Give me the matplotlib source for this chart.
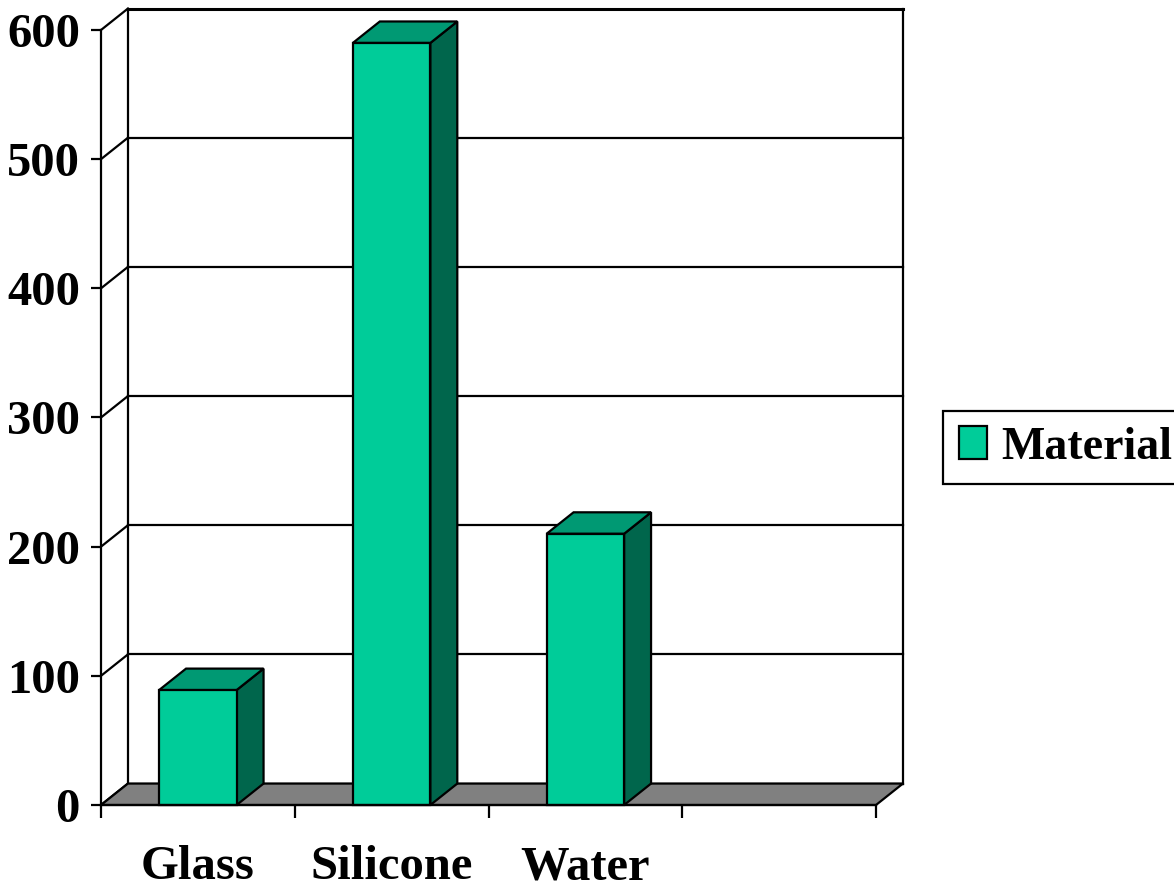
import matplotlib
matplotlib.use("Agg")
import matplotlib.pyplot as plt
from matplotlib.patches import Polygon, Patch

plt.rcParams['font.family'] = ['Liberation Serif', 'DejaVu Serif']
plt.rcParams['font.weight'] = 'bold'

# ---- data ----
categories = ["Glass", "Silicone", "Water", ""]
values = [89, 590, 210]
series_name = "Material"
y_ticks = [0, 100, 200, 300, 400, 500, 600]

# ---- style ----
FRONT = "#00CC99"
TOP = "#009973"
SIDE = "#00664C"
FLOOR = "#808080"
LW = 1.6
FS = 35

fig = plt.figure(figsize=(11.74, 8.88), dpi=100)
W, H = 1174, 888
ax = fig.add_axes([101 / W, (H - 805) / H, 775 / W, 775 / H])
n = len(categories)
ax.set_xlim(0, n)
ax.set_ylim(0, y_ticks[-1])
ax.patch.set_visible(False)

# depth offset of the back wall, in data units
dx, dy = 0.139, 16.6

# side wall diagonals and back-wall gridlines
for v in y_ticks:
    ax.plot([0, dx], [v, v + dy], color="black", lw=LW, clip_on=False,
            solid_capstyle="projecting", zorder=1)
    ax.plot([dx, n + dx], [v + dy, v + dy], color="black",
            lw=LW + (0.6 if v == y_ticks[-1] else 0), clip_on=False, zorder=1)
# vertical edges of the back wall
for xv in (dx, n + dx):
    ax.plot([xv, xv], [dy, y_ticks[-1] + dy], color="black", lw=LW,
            clip_on=False, zorder=1)

# floor
ax.add_patch(Polygon([(0, 0), (n, 0), (n + dx, dy), (dx, dy)], closed=True,
                     facecolor=FLOOR, edgecolor="black", lw=LW, clip_on=False,
                     zorder=2))

# 3D bars
bw = 0.4
for i, v in enumerate(values):
    x0 = i + 0.5 - bw / 2
    x1 = x0 + bw
    front = Polygon([(x0, 0), (x1, 0), (x1, v), (x0, v)], closed=True)
    top = Polygon([(x0, v), (x1, v), (x1 + dx, v + dy), (x0 + dx, v + dy)],
                  closed=True)
    side = Polygon([(x1, 0), (x1 + dx, dy), (x1 + dx, v + dy), (x1, v)],
                   closed=True)
    for p, c in ((side, SIDE), (top, TOP), (front, FRONT)):
        p.set_facecolor(c)
        p.set_edgecolor("black")
        p.set_linewidth(LW)
        p.set_joinstyle("miter")
        p.set_clip_on(False)
        p.set_zorder(3)
        ax.add_patch(p)

# axes and ticks
for s in ("top", "right"):
    ax.spines[s].set_visible(False)
for s in ("left", "bottom"):
    ax.spines[s].set_linewidth(LW)
    ax.spines[s].set_zorder(4)

ax.set_yticks(y_ticks)
ax.set_yticklabels([str(t) for t in y_ticks])
ax.tick_params(axis="y", length=7.2, width=LW, pad=8, labelsize=FS)

ax.set_xticks(range(n + 1))
ax.set_xticklabels([])
ax.set_xticks([i + 0.5 for i in range(n)], minor=True)
ax.set_xticklabels(categories, minor=True)
ax.tick_params(axis="x", which="major", length=9.4, width=LW)
ax.tick_params(axis="x", which="minor", length=0, pad=29, labelsize=FS)

# legend
handle = Patch(facecolor=FRONT, edgecolor="black", lw=LW, label=series_name)
leg = fig.legend(handles=[handle], loc="center left",
                 bbox_to_anchor=(943 / W, 1 - 447.5 / H), frameon=True,
                 fancybox=False, edgecolor="black", framealpha=1,
                 prop={"size": 33, "weight": "bold"},
                 handlelength=0.62, handleheight=0.72, handletextpad=0.3,
                 borderpad=0.34, borderaxespad=0)
leg.get_frame().set_linewidth(LW)

fig.savefig("out.png", dpi=100)
